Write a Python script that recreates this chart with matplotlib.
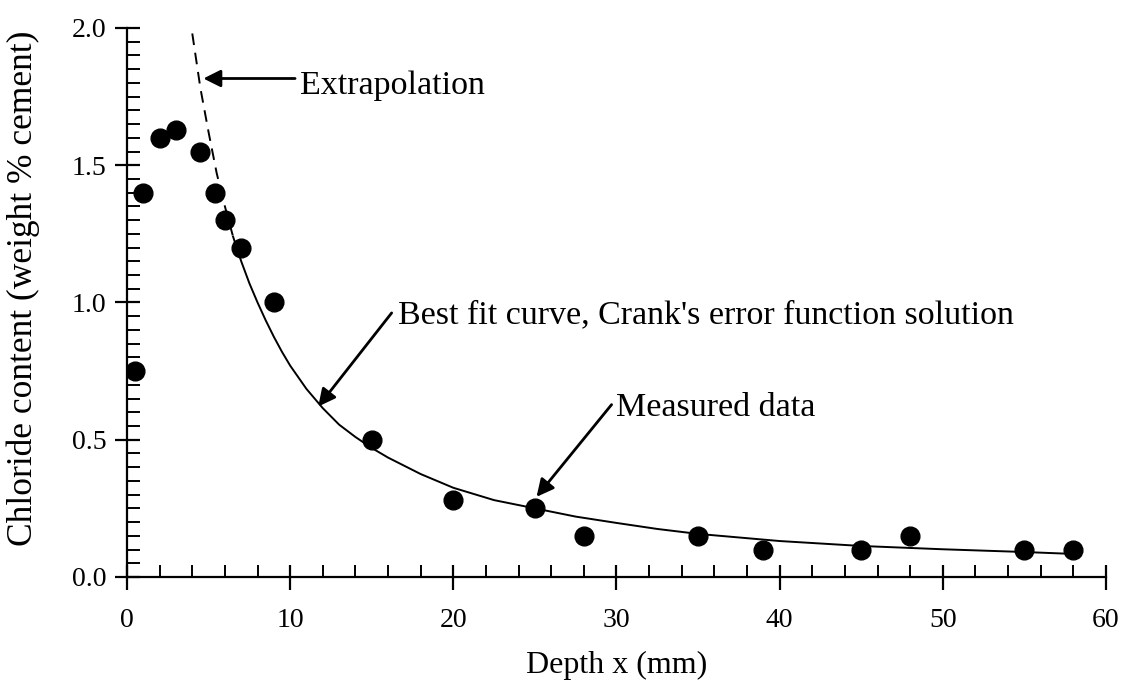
import matplotlib
matplotlib.use("Agg")
import matplotlib.pyplot as plt
from matplotlib.ticker import MultipleLocator

plt.rcParams['font.family'] = ['Liberation Serif', 'DejaVu Serif']

# Measured data
depth_mm = [0.5, 1, 2, 3, 4.5, 5.4, 6, 7, 9, 15, 20, 25, 28, 35, 39, 45, 48, 55, 58]
chloride = [0.75, 1.40, 1.60, 1.63, 1.55, 1.40, 1.30, 1.20, 1.00, 0.50, 0.28, 0.25,
            0.15, 0.15, 0.10, 0.10, 0.15, 0.10, 0.10]

# Best fit curve: extrapolated part and fitted part
extrap_x = [4.0, 4.5, 5.0, 5.5, 6.0, 6.5]
extrap_y = [1.98, 1.78, 1.62, 1.47, 1.35, 1.24]
fit_x = [6.5, 7.0, 7.5, 8.0, 8.5, 9.0, 9.5, 10, 11, 12, 13, 14, 15, 16, 17, 18, 20,
         22.5, 25, 27.5, 30, 32.5, 35, 40, 45, 50, 55, 58]
fit_y = [1.24, 1.15, 1.07, 1.00, 0.935, 0.875, 0.82, 0.77, 0.685, 0.615, 0.555, 0.51,
         0.47, 0.435, 0.405, 0.375, 0.325, 0.28, 0.25, 0.22, 0.197, 0.175, 0.157,
         0.131, 0.113, 0.101, 0.091, 0.084]

# Annotation texts
label_extrap = 'Extrapolation'
label_fit = "Best fit curve, Crank's error function solution"
label_meas = 'Measured data'

fig = plt.figure(figsize=(11.26, 6.86), dpi=100)
ax = fig.add_axes([0.1128, 0.1589, 0.8694, 0.8003])

ax.plot(extrap_x, extrap_y, color='black', lw=1.4, ls=(0, (6, 4)))
ax.plot(fit_x, fit_y, color='black', lw=1.4)
ax.plot(depth_mm, chloride, 'o', color='black', markersize=13.5)

ax.set_xlim(0, 60)
ax.set_ylim(0, 2.0)
ax.xaxis.set_major_locator(MultipleLocator(10))
ax.xaxis.set_minor_locator(MultipleLocator(2))
ax.yaxis.set_major_locator(MultipleLocator(0.5))
ax.yaxis.set_minor_locator(MultipleLocator(0.05))
ax.yaxis.set_major_formatter(plt.FormatStrFormatter('%.1f'))

for s in ['top', 'right']:
    ax.spines[s].set_visible(False)
for s in ['left', 'bottom']:
    ax.spines[s].set_linewidth(1.6)

ax.tick_params(which='major', direction='inout', length=18, width=1.6,
               labelsize=20)
ax.tick_params(axis='x', which='major', pad=13)
ax.tick_params(axis='y', which='major', pad=6)
ax.tick_params(which='minor', direction='in', length=9, width=1.4)

ax.set_xlabel('Depth x (mm)', fontsize=23, labelpad=13)
ax.set_ylabel('Chloride content (weight % cement)', fontsize=25.5)
ax.yaxis.set_label_coords(-0.089, 0.525)

arrow = dict(arrowstyle='-|>', color='black', lw=2, mutation_scale=26,
             shrinkA=0, shrinkB=0)
ax.annotate('', xy=(4.68, 1.816), xytext=(10.3, 1.816), arrowprops=arrow)
ax.text(10.6, 1.76, label_extrap, fontsize=24.5, va='baseline', ha='left')

ax.annotate('', xy=(11.72, 0.621), xytext=(16.22, 0.962), arrowprops=arrow)
ax.text(16.62, 0.926, label_fit, fontsize=24.5, va='baseline', ha='left')

ax.annotate('', xy=(25.1, 0.292), xytext=(29.7, 0.628), arrowprops=arrow)
ax.text(30.0, 0.585, label_meas, fontsize=24.5, va='baseline', ha='left')

fig.savefig('out.png', dpi=100)
